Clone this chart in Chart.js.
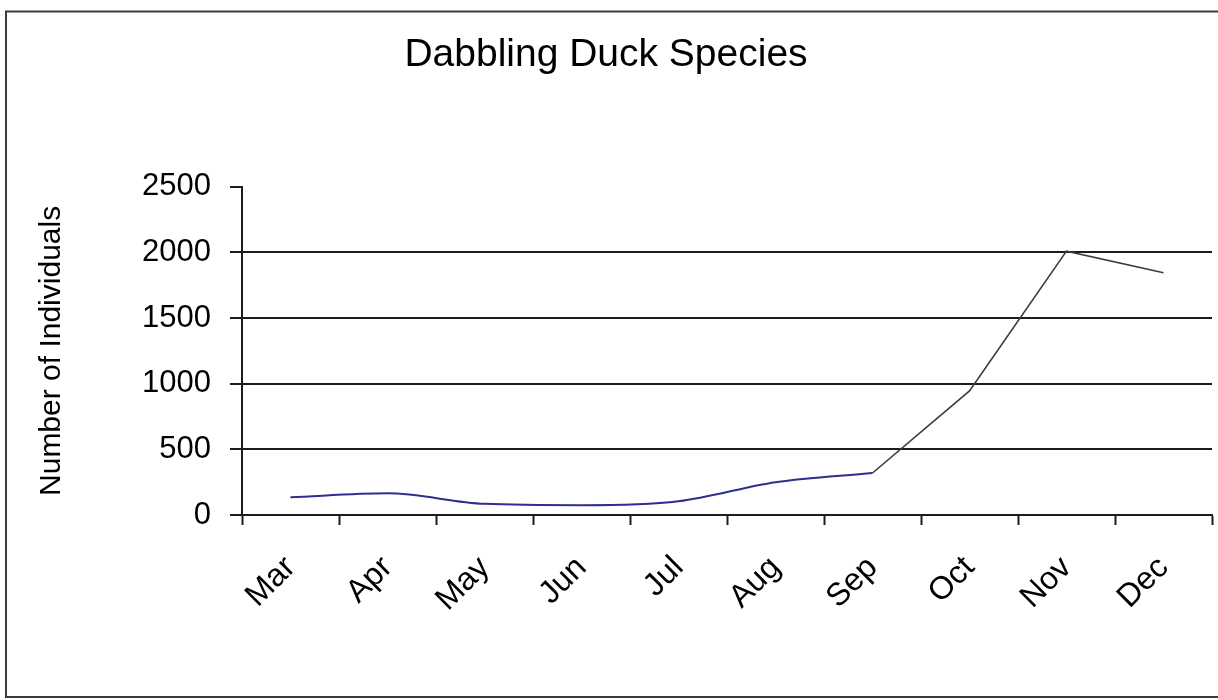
<!DOCTYPE html>
<html>
<head>
<meta charset="utf-8">
<title>Dabbling Duck Species</title>
<script src="https://cdn.jsdelivr.net/npm/chart.js@4.4.1/dist/chart.umd.min.js"></script>
<style>
  html, body { margin: 0; padding: 0; background: #ffffff; }
  #wrap { position: relative; width: 1218px; height: 700px; }
</style>
</head>
<body>
<div id="wrap"><canvas id="chart" width="1218" height="700"></canvas></div>
<script>
// Monthly counts of dabbling ducks
const months = ['Mar', 'Apr', 'May', 'Jun', 'Jul', 'Aug', 'Sep', 'Oct', 'Nov', 'Dec'];
const counts = [135, 165, 85, 75, 105, 250, 320, 945, 2010, 1845];
const yTicks = [0, 500, 1000, 1500, 2000, 2500];

// Spring/summer stretch (Mar–Sep) and the autumn build-up (Sep–Dec)
const summerIdx = 6;
const summerPart = counts.map((v, i) => (i <= summerIdx ? v : null));
const autumnPart = counts.map((v, i) => (i >= summerIdx ? v : null));

const FONT = '"Liberation Sans", Arial, sans-serif';
const INK = '#1c1c1c';

// Thin outer frame around the whole figure
const framePlugin = {
  id: 'frame',
  afterDraw(chart) {
    const ctx = chart.ctx;
    ctx.save();
    ctx.strokeStyle = '#3a3a3a';
    ctx.lineWidth = 2;
    ctx.strokeRect(6, 11.5, 1230, 685.5);
    ctx.restore();
  }
};

new Chart(document.getElementById('chart'), {
  type: 'line',
  data: {
    labels: months,
    datasets: [
      {
        data: summerPart,
        borderColor: '#2e2f8c',
        borderWidth: 2,
        pointRadius: 0,
        cubicInterpolationMode: 'monotone',
        spanGaps: false
      },
      {
        data: autumnPart,
        borderColor: '#3c3c3c',
        borderWidth: 1.6,
        pointRadius: 0,
        tension: 0,
        spanGaps: false
      }
    ]
  },
  options: {
    responsive: false,
    animation: false,
    layout: { padding: { left: 0, right: 6, top: 0, bottom: 0 } },
    plugins: {
      legend: { display: false },
      tooltip: { enabled: false },
      title: {
        display: true,
        text: 'Dabbling Duck Species',
        color: '#000',
        font: { family: FONT, size: 39, weight: 'normal' },
        padding: { top: 32, bottom: 108 }
      }
    },
    scales: {
      x: {
        type: 'category',
        offset: true,
        grid: {
          offset: true,
          drawOnChartArea: false,
          drawTicks: true,
          tickLength: 10,
          tickColor: INK,
          tickWidth: 2
        },
        border: { display: true, color: INK, width: 2 },
        ticks: {
          autoSkip: false,
          minRotation: 45,
          maxRotation: 45,
          padding: 24,
          color: '#000',
          font: { family: FONT, size: 32 }
        },
        afterFit(scale) { scale.height = 185; }
      },
      y: {
        min: 0,
        max: 2500,
        afterBuildTicks(scale) { scale.ticks = yTicks.map(v => ({ value: v })); },
        grid: {
          color: ctx => (ctx.tick && (ctx.tick.value === 0 || ctx.tick.value === 2500) ? 'rgba(0,0,0,0)' : INK),
          lineWidth: 2,
          drawTicks: true,
          tickLength: 12,
          tickColor: INK,
          tickWidth: 2
        },
        border: { display: true, color: INK, width: 2 },
        ticks: {
          padding: 19,
          color: '#000',
          font: { family: FONT, size: 31 },
          callback: v => String(v)
        },
        title: {
          display: true,
          text: 'Number of Individuals',
          color: '#000',
          font: { family: FONT, size: 30, weight: 'normal' },
          padding: { top: 34, bottom: 0 }
        },
        afterFit(scale) { scale.width = 242; }
      }
    }
  },
  plugins: [framePlugin]
});
</script>
</body>
</html>
